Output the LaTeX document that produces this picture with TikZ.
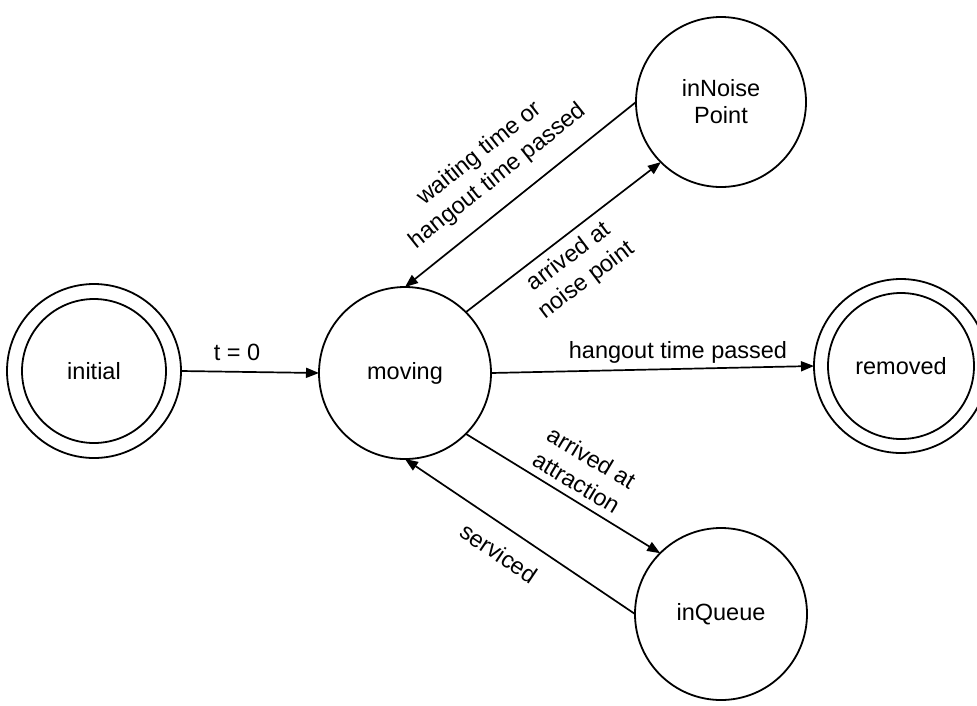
\documentclass[tikz,border=0pt]{standalone}
\usepackage{fontspec}
\setmainfont{Liberation Sans}
\usetikzlibrary{arrows.meta}
\begin{document}
\begin{tikzpicture}[x=1pt,y=-1pt,
  state/.style={circle,draw,line width=1.8pt,minimum size=172pt,inner sep=0pt,outer sep=0pt,align=center,font=\fontsize{23.5}{27}\selectfont},
  accept/.style={state,minimum size=174pt},
  edge/.style={line width=1.7pt,-{Triangle[length=13pt,width=10pt]}},
  lbl/.style={font=\fontsize{23.5}{29}\selectfont,align=center,inner sep=0pt}]
\useasboundingbox (0,0) rectangle (977,705);
\node[accept] (init) at (94,371) {initial};
\draw[line width=1.8pt] (init.center) circle (72);
\node[state] (moving) at (405,373) {moving};
\node[state,minimum size=170pt] (noise) at (721,102) {inNoise\\Point};
\node[accept] (removed) at (901,366) {removed};
\draw[line width=1.8pt] (removed.center) circle (73);
\node[state] (queue) at (721,614) {inQueue};

\draw[edge] (init.east) -- (moving.west);
\draw[edge] (moving.east) -- (removed.west);
\draw[edge] (noise.west) -- (moving.north);
\draw[edge] (moving.45) -- (noise.225);
\draw[edge] (moving.-45) -- (queue.135);
\draw[edge] (queue.west) -- (moving.south);

\node[lbl] (l1) at (237,352) {t = 0};
\node[lbl] (l2) at (678,352) {hangout time passed};
\node[lbl,rotate=38.5] (l3) at (489,165) {waiting time or\\hangout time passed};
\node[lbl,rotate=37] (l4) at (578,269) {arrived at\\noise point};
\node[lbl,rotate=-31] (l5) at (584,470) {arrived at\\attraction};
\node[lbl,rotate=-34] (l6) at (499,553) {serviced};
\end{tikzpicture}
\end{document}
